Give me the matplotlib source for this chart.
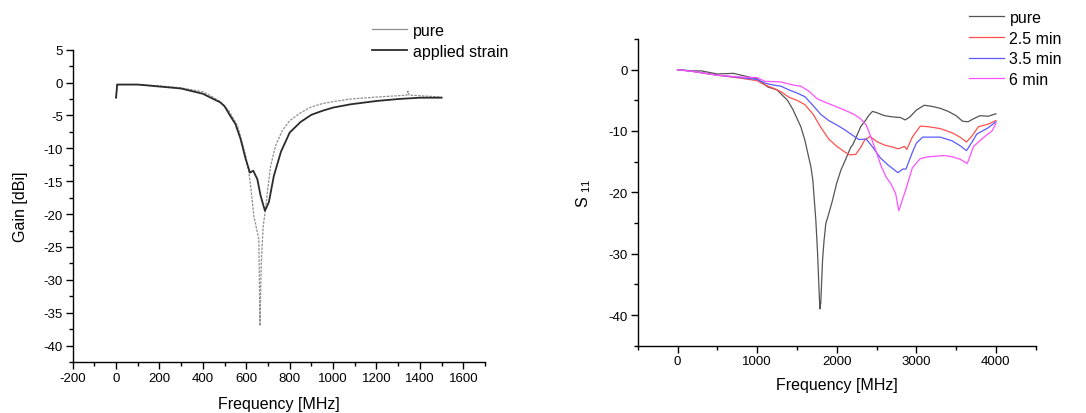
import numpy as np
import matplotlib
matplotlib.use("Agg")
import matplotlib.pyplot as plt

plt.rcParams['font.family'] = ['Liberation Sans', 'DejaVu Sans']
plt.rcParams['mathtext.default'] = 'regular'
plt.rcParams['axes.unicode_minus'] = False

# left panel: gain vs frequency
gain_freq_pure = [0, 5, 100, 200, 300, 400, 436, 480, 520, 560, 597, 612, 620, 628, 635,
                  651, 658, 663, 669, 678, 689, 697, 712, 735, 766, 800, 850, 900, 950,
                  1000, 1081, 1200, 1300, 1340, 1345, 1350, 1400, 1500]
gain_pure = [-2.3, -0.3, -0.3, -0.5, -0.8, -1.4, -2.0, -2.9, -4.3, -6.6, -11.1, -13.7,
             -15.7, -18.2, -20.3, -22.8, -23.8, -37.0, -27.4, -21.8, -19.2, -16.7, -12.7,
             -9.6, -7.3, -5.8, -4.6, -3.7, -3.2, -2.9, -2.5, -2.2, -2.0, -1.9, -1.3, -1.9,
             -2.0, -2.2]

gain_freq_strain = [0, 5, 100, 200, 300, 400, 436, 480, 500, 525, 550, 574, 597, 617,
                    632, 651, 666, 686, 704, 727, 760, 800, 850, 900, 950, 1000, 1081,
                    1200, 1300, 1400, 1500]
gain_strain = [-2.3, -0.3, -0.3, -0.6, -0.9, -1.7, -2.3, -3.0, -3.6, -5.0, -6.3, -8.6,
               -11.6, -13.7, -13.4, -14.7, -17.2, -19.5, -18.2, -14.2, -10.5, -7.6, -6.0,
               -4.9, -4.3, -3.8, -3.3, -2.8, -2.5, -2.3, -2.3]

# right panel: S11 vs frequency
s11_freq_pure = [0, 200, 300, 500, 700, 1000, 1131, 1250, 1382, 1450, 1549, 1600, 1675,
                 1700, 1738, 1760, 1788, 1800, 1822, 1840, 1863, 1900, 1947, 2000, 2052,
                 2100, 2178, 2200, 2282, 2300, 2366, 2400, 2450, 2500, 2600, 2700, 2800,
                 2860, 2920, 3000, 3100, 3200, 3300, 3400, 3500, 3580, 3650, 3720, 3800,
                 3900, 4000]
s11_pure = [0, -0.2, -0.2, -0.7, -0.6, -1.5, -2.8, -3.3, -5.0, -6.5, -9.3, -11.5, -15.8,
            -18.0, -24.6, -30.0, -39.0, -38.0, -31.1, -28.0, -25.1, -23.5, -21.3, -18.5,
            -16.4, -15.0, -12.6, -12.3, -9.9, -9.3, -8.2, -7.5, -6.8, -7.0, -7.5, -7.7,
            -7.8, -8.2, -7.7, -6.6, -5.8, -6.0, -6.3, -6.8, -7.5, -8.4, -8.5, -8.0, -7.5,
            -7.6, -7.2]

s11_freq_25 = [0, 200, 500, 800, 1000, 1100, 1200, 1300, 1400, 1500, 1600, 1700, 1800,
               1900, 2000, 2100, 2160, 2240, 2300, 2350, 2420, 2500, 2600, 2700, 2770,
               2820, 2850, 2880, 2950, 3050, 3150, 3300, 3450, 3550, 3630, 3700, 3780,
               3900, 4000]
s11_25 = [0, -0.3, -0.9, -1.4, -1.8, -2.5, -3.0, -3.6, -4.5, -5.0, -5.7, -7.2, -9.4,
          -11.3, -12.5, -13.4, -13.9, -13.8, -12.7, -11.5, -10.9, -11.7, -12.3, -12.6,
          -12.9, -12.7, -12.5, -13.0, -11.0, -9.2, -9.3, -9.6, -10.3, -11.0, -11.8,
          -10.8, -9.3, -8.9, -8.3]

s11_freq_35 = [0, 200, 500, 800, 1000, 1100, 1200, 1300, 1400, 1500, 1600, 1700, 1800,
               1900, 2000, 2100, 2200, 2280, 2370, 2450, 2550, 2650, 2770, 2830, 2870,
               2950, 3000, 3080, 3300, 3450, 3550, 3630, 3700, 3760, 3900, 4000]
s11_35 = [0, -0.3, -0.9, -1.3, -1.6, -2.2, -2.5, -2.7, -3.3, -3.8, -4.4, -5.8, -7.3,
          -8.3, -9.0, -9.8, -10.7, -11.4, -11.3, -12.6, -14.4, -15.6, -16.8, -16.2,
          -16.2, -13.5, -12.0, -11.0, -11.0, -11.6, -12.4, -13.2, -11.8, -10.5, -9.5,
          -8.5]

s11_freq_6 = [0, 200, 500, 800, 1000, 1100, 1300, 1450, 1550, 1650, 1750, 1850, 1950,
              2100, 2220, 2300, 2370, 2430, 2500, 2560, 2620, 2680, 2740, 2780, 2830,
              2870, 2950, 3050, 3150, 3250, 3350, 3450, 3550, 3640, 3720, 3850, 3950,
              4000]
s11_6 = [0, -0.3, -0.9, -1.2, -1.3, -1.9, -2.0, -2.5, -2.7, -3.5, -4.7, -5.3, -5.8,
         -6.6, -7.3, -8.0, -9.0, -11.0, -13.5, -15.8, -17.5, -18.6, -20.2, -23.0, -21.0,
         -19.5, -16.0, -14.5, -14.2, -14.1, -14.0, -14.2, -14.6, -15.3, -12.5, -11.0,
         -10.0, -8.8]

fig = plt.figure(figsize=(10.86, 4.14), dpi=100)
ax1 = fig.add_axes([0.0669, 0.1232, 0.3797, 0.7543])
ax2 = fig.add_axes([0.5872, 0.1626, 0.3665, 0.7408])


def style_axes(ax):
    for side in ['top', 'right']:
        ax.spines[side].set_visible(False)
    for side in ['left', 'bottom']:
        ax.spines[side].set_linewidth(1.0)
    ax.tick_params(which='major', direction='out', length=5, width=1, labelsize=9.5, pad=2)
    ax.tick_params(which='minor', direction='out', length=3, width=1)


# left
ax1.plot(gain_freq_pure, gain_pure, color='#8f8f8f', lw=0.9, ls=(0, (2, 1)), label='pure')
ax1.plot(gain_freq_strain, gain_strain, color='#2b2b2b', lw=1.3, label='applied strain')
ax1.set_xlim(-200, 1700)
ax1.set_ylim(-42.5, 5)
ax1.set_xticks(np.arange(-200, 1601, 200))
ax1.set_xticks(np.arange(-200, 1701, 100), minor=True)
ax1.set_yticks(np.arange(-40, 6, 5))
ax1.set_yticks(np.arange(-42.5, 5.1, 2.5), minor=True)
style_axes(ax1)
ax1.set_xlabel('Frequency [MHz]', fontsize=11.5, labelpad=9)
ax1.set_ylabel('Gain [dBi]', fontsize=11.5, labelpad=11)
leg1 = ax1.legend(loc='upper left', bbox_to_anchor=(0.3425, 1 - 24 / 414),
                  bbox_transform=fig.transFigure, frameon=False, fontsize=11.5,
                  handlelength=2.2, handletextpad=0.35, borderpad=0, borderaxespad=0,
                  labelspacing=0.35)
leg1.get_lines()[0].set_linestyle('-')

# right
ax2.plot(s11_freq_pure, s11_pure, color='#555555', lw=0.9, label='pure')
ax2.plot(s11_freq_25, s11_25, color='#ff5050', lw=0.9, label='2.5 min')
ax2.plot(s11_freq_35, s11_35, color='#5a5aff', lw=0.9, label='3.5 min')
ax2.plot(s11_freq_6, s11_6, color='#ff50ff', lw=0.9, label='6 min')
ax2.set_xlim(-500, 4500)
ax2.set_ylim(-45, 5)
ax2.set_xticks(np.arange(0, 4001, 1000))
ax2.set_xticks(np.arange(-500, 4501, 500), minor=True)
ax2.set_yticks(np.arange(-40, 1, 10))
ax2.set_yticks(np.arange(-45, 5.1, 5), minor=True)
style_axes(ax2)
ax2.set_xlabel('Frequency [MHz]', fontsize=11.5, labelpad=7)
ax2.set_ylabel('S $_{11}$', fontsize=11.5, labelpad=11)
ax2.legend(loc='upper left', bbox_to_anchor=(0.892, 1 - 11 / 414),
           bbox_transform=fig.transFigure, frameon=False, fontsize=11.5,
           handlelength=2.2, handletextpad=0.35, borderpad=0, borderaxespad=0,
           labelspacing=0.35)

fig.savefig('out.png', dpi=100)
